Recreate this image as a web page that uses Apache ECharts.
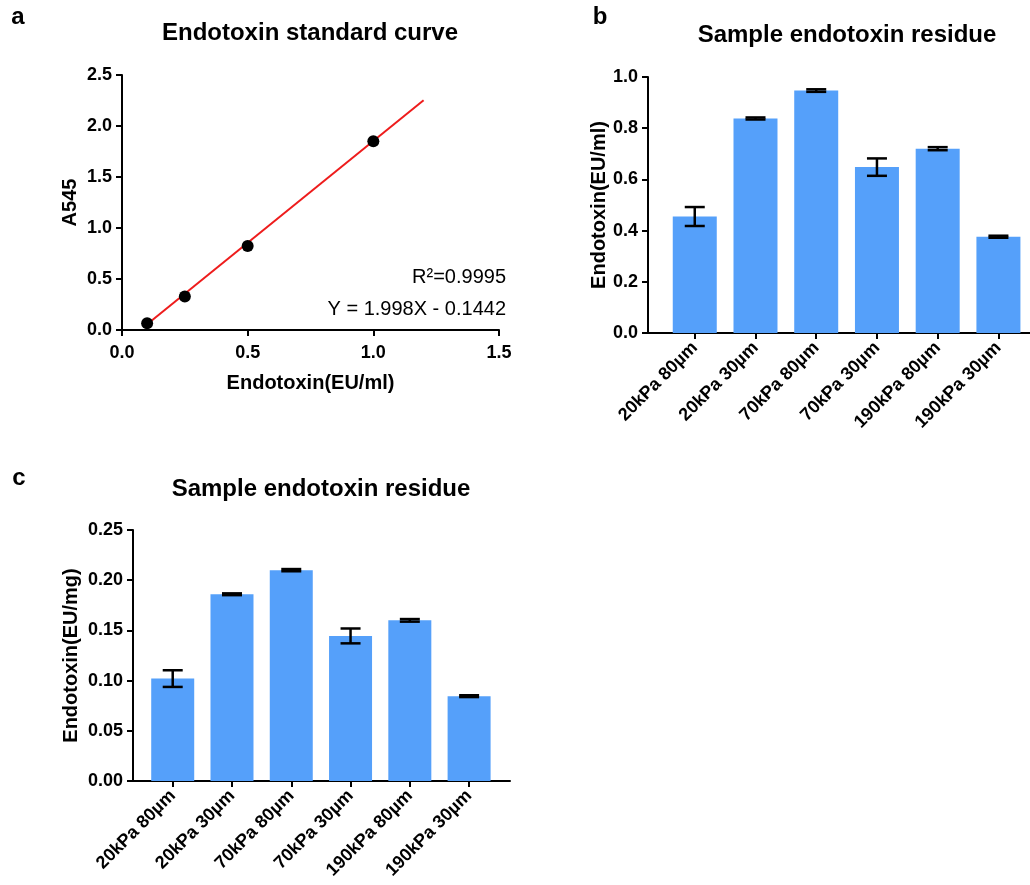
<!DOCTYPE html>
<html>
<head>
<meta charset="utf-8">
<script src="https://cdn.jsdelivr.net/npm/echarts@6/dist/echarts.min.js"></script>
<style>
html,body{margin:0;padding:0;background:#fff;}
#main{width:1030px;height:885px;}
</style>
</head>
<body>
<div id="main"></div>
<script>
// ---------- data ----------
var stdX = [0.1, 0.25, 0.5, 1.0];
var stdY = [0.066, 0.328, 0.824, 1.85];
var fitX = [0.1, 1.2];
var fitY = [0.056, 2.253];
var categories = ['20kPa 80µm', '20kPa 30µm', '70kPa 80µm', '70kPa 30µm', '190kPa 80µm', '190kPa 30µm'];
var mlMean = [0.455, 0.838, 0.947, 0.648, 0.720, 0.376];
var mlSD = [0.037, 0.004, 0.005, 0.034, 0.006, 0.004];
var mgMean = [0.102, 0.186, 0.210, 0.1445, 0.160, 0.0845];
var mgSD = [0.0083, 0.0009, 0.0011, 0.0074, 0.0013, 0.0009];
var catIdx = [0, 1, 2, 3, 4, 5];

// ---------- styles ----------
var FONT = 'Liberation Sans';
var BAR = '#55a0fa';
var axisLine = {show: true, onZero: false, lineStyle: {color: '#000', width: 2}};
var axisTick = {show: true, inside: false, length: 6, lineStyle: {color: '#000', width: 2}};
function lbl(fmt, extra) {
  var o = {color: '#000', fontFamily: FONT, fontWeight: 'bold', fontSize: 18, margin: 10, formatter: fmt};
  for (var k in extra) o[k] = extra[k];
  return o;
}
var nameStyle = {color: '#000', fontFamily: FONT, fontWeight: 'bold', fontSize: 20};

function pairs(xs, ys) { return xs.map(function (x, i) { return [x, ys[i]]; }); }
function errData(m, s) { return m.map(function (v, i) { return [i, v - s[i], v + s[i]]; }); }

function errRender(params, api) {
  var x = api.value(0);
  var lo = api.coord([x, api.value(1)]);
  var hi = api.coord([x, api.value(2)]);
  var hw = 10;
  var st = {stroke: '#000', lineWidth: 2.5};
  return {type: 'group', children: [
    {type: 'line', shape: {x1: lo[0], y1: lo[1], x2: hi[0], y2: hi[1]}, style: st},
    {type: 'line', shape: {x1: lo[0] - hw, y1: lo[1], x2: lo[0] + hw, y2: lo[1]}, style: st},
    {type: 'line', shape: {x1: hi[0] - hw, y1: hi[1], x2: hi[0] + hw, y2: hi[1]}, style: st}
  ]};
}

function txt(t, x, y, size, weight, align) {
  return {type: 'text', x: x, y: y, style: {text: t, fill: '#000', font: weight + ' ' + size + 'px "' + FONT + '"',
    textAlign: align || 'center', textVerticalAlign: 'middle'}};
}

var option = {
  backgroundColor: '#fff',
  animation: false,
  graphic: [
    txt('a', 18, 17, 24, 'bold'),
    txt('b', 600, 17, 24, 'bold'),
    txt('c', 19, 478, 24, 'bold'),
    txt('Endotoxin standard curve', 310, 33, 24, 'bold'),
    txt('Sample endotoxin residue', 847, 35, 24, 'bold'),
    txt('Sample endotoxin residue', 321, 489, 24, 'bold'),
    txt('R²=0.9995', 506, 277, 20, 'normal', 'right'),
    txt('Y = 1.998X - 0.1442', 506, 309, 20, 'normal', 'right')
  ],
  grid: [
    {left: 122, top: 75, width: 377, height: 255},
    {left: 648, top: 77, width: 382, height: 256},
    {left: 133, top: 530, width: 377, height: 251}
  ],
  xAxis: [
    {gridIndex: 0, type: 'value', min: 0, max: 1.5, interval: 0.5,
      axisLine: axisLine, axisTick: axisTick, splitLine: {show: false},
      axisLabel: lbl(function (v) { return v.toFixed(1); }, {margin: 14}),
      name: 'Endotoxin(EU/ml)', nameLocation: 'middle', nameGap: 43, nameTextStyle: nameStyle},
    {gridIndex: 1, type: 'value', min: -0.77, max: 5.52,
      axisLine: axisLine, splitLine: {show: false},
      axisTick: {show: true, length: 6, lineStyle: {color: '#000', width: 2}, customValues: catIdx},
      axisLabel: lbl(function (v) { return categories[Math.round(v)]; }, {rotate: 45, margin: 12, customValues: catIdx})},
    {gridIndex: 2, type: 'value', min: -0.67, max: 5.69,
      axisLine: axisLine, splitLine: {show: false},
      axisTick: {show: true, length: 6, lineStyle: {color: '#000', width: 2}, customValues: catIdx},
      axisLabel: lbl(function (v) { return categories[Math.round(v)]; }, {rotate: 45, margin: 12, customValues: catIdx})}
  ],
  yAxis: [
    {gridIndex: 0, type: 'value', min: 0, max: 2.5, interval: 0.5,
      axisLine: axisLine, axisTick: axisTick, splitLine: {show: false},
      axisLabel: lbl(function (v) { return v.toFixed(1); }),
      name: 'A545', nameLocation: 'middle', nameGap: 42, nameTextStyle: nameStyle},
    {gridIndex: 1, type: 'value', min: 0, max: 1.0, interval: 0.2,
      axisLine: axisLine, axisTick: axisTick, splitLine: {show: false},
      axisLabel: lbl(function (v) { return v.toFixed(1); }),
      name: 'Endotoxin(EU/ml)', nameLocation: 'middle', nameGap: 34, nameTextStyle: nameStyle},
    {gridIndex: 2, type: 'value', min: 0, max: 0.25, interval: 0.05,
      axisLine: axisLine, axisTick: axisTick, splitLine: {show: false},
      axisLabel: lbl(function (v) { return v.toFixed(2); }),
      name: 'Endotoxin(EU/mg)', nameLocation: 'middle', nameGap: 52, nameTextStyle: nameStyle}
  ],
  series: [
    {type: 'line', xAxisIndex: 0, yAxisIndex: 0, data: pairs(fitX, fitY), symbol: 'none',
      lineStyle: {color: '#ee1c1c', width: 2}, z: 2},
    {type: 'scatter', xAxisIndex: 0, yAxisIndex: 0, data: pairs(stdX, stdY), symbolSize: 12,
      itemStyle: {color: '#000', opacity: 1}, z: 3},
    {type: 'bar', xAxisIndex: 1, yAxisIndex: 1, data: pairs(catIdx, mlMean), barWidth: 44,
      itemStyle: {color: BAR}, z: 2},
    {type: 'custom', xAxisIndex: 1, yAxisIndex: 1, data: errData(mlMean, mlSD), renderItem: errRender, z: 4},
    {type: 'bar', xAxisIndex: 2, yAxisIndex: 2, data: pairs(catIdx, mgMean), barWidth: 43,
      itemStyle: {color: BAR}, z: 2},
    {type: 'custom', xAxisIndex: 2, yAxisIndex: 2, data: errData(mgMean, mgSD), renderItem: errRender, z: 4}
  ]
};

var chart = echarts.init(document.getElementById('main'), null, {renderer: 'canvas'});
chart.setOption(option);
</script>
</body>
</html>
